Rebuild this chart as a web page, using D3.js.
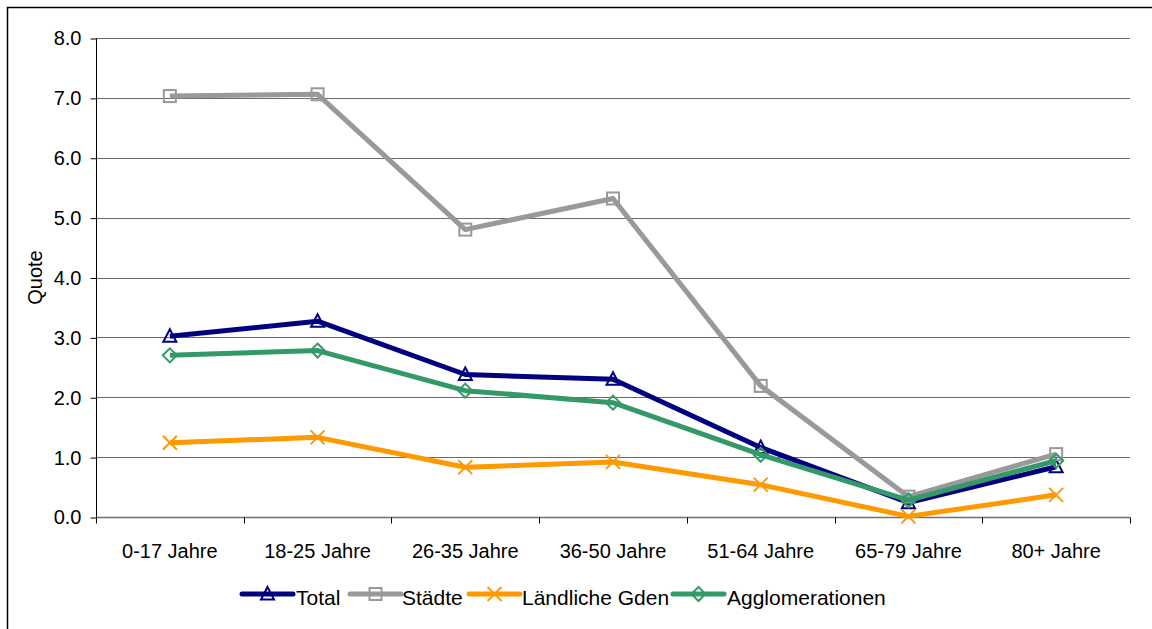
<!DOCTYPE html>
<html>
<head>
<meta charset="utf-8">
<script src="https://cdn.jsdelivr.net/npm/d3@7"></script>
<style>
  body { margin: 0; background: #fff; }
  svg { display: block; font-family: "Liberation Sans", Arial, sans-serif; }
</style>
</head>
<body>
<div id="chart"></div>
<script>
// Altersgruppen und Quoten
const categories = ["0-17 Jahre", "18-25 Jahre", "26-35 Jahre", "36-50 Jahre", "51-64 Jahre", "65-79 Jahre", "80+ Jahre"];
const total = [3.02, 3.27, 2.38, 2.30, 1.16, 0.24, 0.84];
const staedte = [7.03, 7.06, 4.80, 5.32, 2.19, 0.34, 1.05];
const laendlich = [1.24, 1.33, 0.83, 0.92, 0.54, 0.01, 0.37];
const agglo = [2.70, 2.78, 2.11, 1.91, 1.04, 0.28, 0.94];
const yTicks = [0, 1, 2, 3, 4, 5, 6, 7, 8];

const series = [
  { name: "Total", values: total, color: "#000080", marker: "triangle" },
  { name: "Städte", values: staedte, color: "#999999", marker: "square" },
  { name: "Ländliche Gden", values: laendlich, color: "#FF9900", marker: "cross" },
  { name: "Agglomerationen", values: agglo, color: "#339966", marker: "diamond" }
];

const width = 1152;
const height = 629;
const plot = { left: 96, right: 1130, top: 38, bottom: 517 };

const svg = d3.select("#chart")
  .append("svg")
  .attr("width", width)
  .attr("height", height);

// outer frame
svg.append("rect")
  .attr("x", 7.5).attr("y", 7.5)
  .attr("width", width).attr("height", height)
  .attr("fill", "none")
  .attr("stroke", "#000")
  .attr("stroke-width", 1.5);

const x = d3.scaleBand()
  .domain(categories)
  .range([plot.left, plot.right]);

const y = d3.scaleLinear()
  .domain([0, 8])
  .range([plot.bottom, plot.top]);

// gridlines
svg.append("g")
  .selectAll("line")
  .data(yTicks.slice(1))
  .join("line")
  .attr("x1", plot.left).attr("x2", plot.right)
  .attr("y1", d => Math.round(y(d)) + 0.5).attr("y2", d => Math.round(y(d)) + 0.5)
  .attr("stroke", "#6a6a6a")
  .attr("stroke-width", 1);

// y axis
const yAxis = svg.append("g")
  .attr("transform", `translate(${plot.left + 0.5},0.5)`)
  .call(d3.axisLeft(y).tickValues(yTicks).tickFormat(d3.format(".1f")).tickSize(6).tickPadding(9));
yAxis.select(".domain").attr("stroke", "#000").attr("d", `M0,${plot.top}V${plot.bottom}`);
yAxis.selectAll(".tick line").attr("stroke", "#000");
yAxis.selectAll(".tick text").attr("font-size", 20).attr("fill", "#000")
  .attr("font-family", "Liberation Sans, Arial, sans-serif");

// x axis with ticks between categories
const xAxisG = svg.append("g")
  .attr("transform", `translate(0,${plot.bottom + 0.5})`);
xAxisG.append("line")
  .attr("x1", plot.left).attr("x2", plot.right)
  .attr("stroke", "#707070").attr("stroke-width", 1.5);
xAxisG.selectAll("line.tk")
  .data(categories.concat(["end"]))
  .join("line")
  .attr("class", "tk")
  .attr("x1", (d, i) => Math.round(plot.left + i * x.step()) + 0.5)
  .attr("x2", (d, i) => Math.round(plot.left + i * x.step()) + 0.5)
  .attr("y1", 0).attr("y2", 6)
  .attr("stroke", "#000");
xAxisG.selectAll("text")
  .data(categories)
  .join("text")
  .attr("x", d => x(d) + x.bandwidth() / 2)
  .attr("y", 40.5)
  .attr("text-anchor", "middle")
  .attr("font-size", 20)
  .attr("fill", "#000")
  .text(d => d);

// y label
svg.append("text")
  .attr("transform", `translate(42,${(plot.top + plot.bottom) / 2}) rotate(-90)`)
  .attr("text-anchor", "middle")
  .attr("font-size", 20)
  .attr("fill", "#000")
  .text("Quote");

const cx = d => x(d) + x.bandwidth() / 2;

function drawMarker(g, type, color) {
  if (type === "triangle") {
    g.append("path").attr("d", "M0,-7L6.5,5.5L-6.5,5.5Z")
      .attr("fill", "none").attr("stroke", color).attr("stroke-width", 2);
  } else if (type === "square") {
    g.append("rect").attr("x", -6).attr("y", -6).attr("width", 12).attr("height", 12)
      .attr("fill", "none").attr("stroke", color).attr("stroke-width", 2);
  } else if (type === "cross") {
    g.append("path").attr("d", "M-7,-7L7,7M7,-7L-7,7")
      .attr("fill", "none").attr("stroke", color).attr("stroke-width", 2);
  } else if (type === "diamond") {
    g.append("path").attr("d", "M0,-7L7,0L0,7L-7,0Z")
      .attr("fill", "none").attr("stroke", color).attr("stroke-width", 2);
  }
}

const line = d3.line()
  .x((d, i) => cx(categories[i]))
  .y(d => y(d));

series.forEach(s => {
  const g = svg.append("g");
  g.append("path")
    .datum(s.values)
    .attr("d", line)
    .attr("fill", "none")
    .attr("stroke", s.color)
    .attr("stroke-width", 5)
    .attr("stroke-linejoin", "round");
  s.values.forEach((v, i) => {
    const m = g.append("g").attr("transform", `translate(${cx(categories[i])},${y(v)})`);
    drawMarker(m, s.marker, s.color);
  });
});

// legend
const legendItems = [
  { x: 242, tx: 296 },
  { x: 350, tx: 402 },
  { x: 469, tx: 522 },
  { x: 673, tx: 727 }
];
const legend = svg.append("g").attr("transform", "translate(0,594)");
series.forEach((s, i) => {
  const li = legendItems[i];
  legend.append("line")
    .attr("x1", li.x).attr("x2", li.x + 51)
    .attr("stroke", s.color).attr("stroke-width", 5).attr("stroke-linecap", "round");
  const m = legend.append("g").attr("transform", `translate(${li.x + 25.5},0)`);
  drawMarker(m, s.marker, s.color);
  legend.append("text")
    .attr("x", li.tx).attr("y", 11)
    .attr("font-size", 21)
    .attr("fill", "#000")
    .text(s.name);
});
</script>
</body>
</html>
